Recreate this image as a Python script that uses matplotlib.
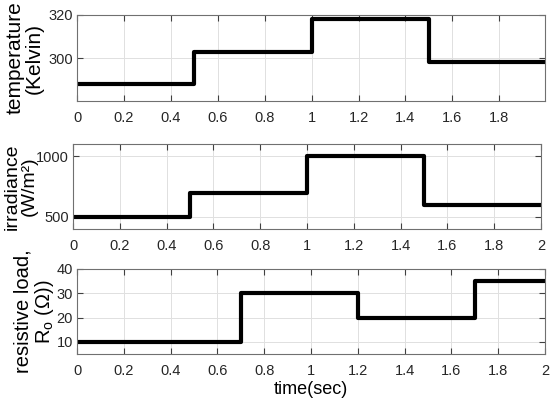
import numpy as np
import matplotlib
matplotlib.use("Agg")
import matplotlib.pyplot as plt

plt.rcParams['font.family'] = ['Liberation Sans', 'DejaVu Sans']
plt.rcParams['mathtext.fontset'] = 'custom'
plt.rcParams['mathtext.rm'] = 'Liberation Sans'
plt.rcParams['mathtext.it'] = 'Liberation Sans'

# step inputs (value holds from each time until the next)
t_temp = [0, 0.5, 1.0, 1.5, 2.0]
temperature = [288, 303, 318, 298, 298]
t_irr = [0, 0.5, 1.0, 1.5, 2.0]
irradiance = [500, 700, 1000, 600, 600]
t_load = [0, 0.7, 1.2, 1.7, 2.0]
load = [10, 30, 20, 35, 35]

xticks_top = [0, 0.2, 0.4, 0.6, 0.8, 1, 1.2, 1.4, 1.6, 1.8]
xticks_full = xticks_top + [2]

fig = plt.figure(figsize=(5.5, 4.08), dpi=100)

W, H = 550, 408
def px_axes(left, top, right, bottom):
    return fig.add_axes([left / W, (H - bottom) / H, (right - left) / W, (bottom - top) / H])

ax1 = px_axes(77, 15, 545, 101)
ax2 = px_axes(73, 144, 541, 229)
ax3 = px_axes(77, 269, 545, 354)

def style(ax):
    ax.grid(True, color='#e0e0e0', linewidth=0.7)
    ax.set_axisbelow(True)
    ax.tick_params(direction='in', top=True, right=True, length=4, width=0.8,
                   colors='#404040', labelcolor='#262626', labelsize=10.5)
    ax.tick_params(axis='x', pad=7)
    ax.tick_params(axis='y', pad=3)
    for s in ax.spines.values():
        s.set_color('#707070')
        s.set_linewidth(0.8)

ax1.step(t_temp, temperature, where='post', color='black', linewidth=3)
ax1.set_xlim(0, 1.995)
ax1.set_ylim(280, 320)
ax1.set_xticks(xticks_top)
ax1.set_xticklabels([f'{v:g}' for v in xticks_top])
ax1.set_yticks([300, 320])
ax1.set_ylabel('temperature\n(Kelvin)', fontsize=15, linespacing=1.0)
ax1.yaxis.set_label_coords(-0.072, 0.5)
style(ax1)

ax2.step(t_irr, irradiance, where='post', color='black', linewidth=3)
ax2.set_xlim(0, 2)
ax2.set_ylim(400, 1100)
ax2.set_xticks(xticks_full)
ax2.set_xticklabels([f'{v:g}' for v in xticks_full])
ax2.set_yticks([500, 1000])
ax2.set_ylabel('irradiance\n(W/m\u00b2)', fontsize=14, linespacing=1.0)
ax2.yaxis.set_label_coords(-0.075, 0.5)
style(ax2)

ax3.step(t_load, load, where='post', color='black', linewidth=3)
ax3.set_xlim(0, 2)
ax3.set_ylim(5, 40)
ax3.set_xticks(xticks_full)
ax3.set_xticklabels([f'{v:g}' for v in xticks_full])
ax3.set_yticks([10, 20, 30, 40])
ax3.set_ylabel('resistive load,\nR$_\\mathrm{o}$ (\u03a9))', fontsize=14.5, linespacing=1.0)
ax3.yaxis.set_label_coords(-0.045, 0.5)
ax3.set_xlabel('time(sec)', fontsize=13, labelpad=2)
style(ax3)

fig.savefig('out.png', dpi=100)
